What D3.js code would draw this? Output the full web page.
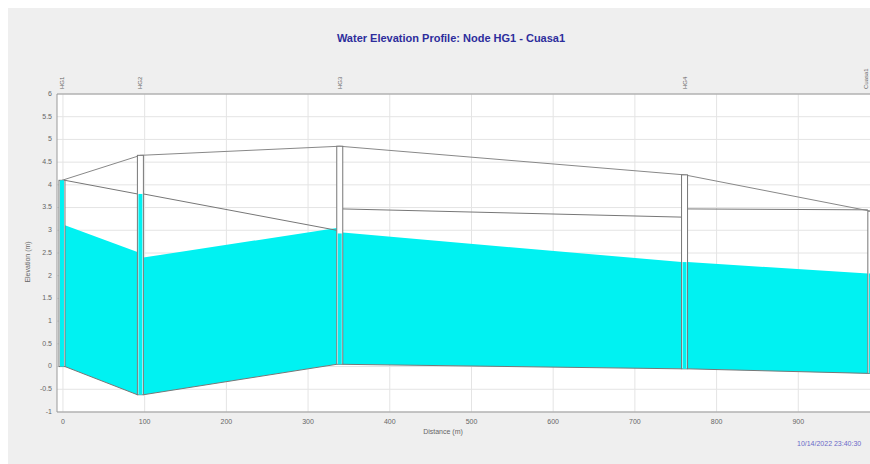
<!DOCTYPE html>
<html>
<head>
<meta charset="utf-8">
<script src="https://d3js.org/d3.v7.min.js"></script>
<style>
  body { margin: 0; background: #fff; }
  svg { display: block; font-family: "Liberation Sans", Arial, sans-serif; }
</style>
</head>
<body>
<svg width="870" height="464"></svg>
<script>
// Nodes along the profile
var nodeNames  = ["HG1", "HG2", "HG3", "HG4", "Cuasa1"];
var nodeDist   = [0, 96, 340, 762, 990];          // m
var nodeInvert = [0, -0.62, 0.05, -0.05, -0.15];  // m
var nodeGround = [4.1, 4.65, 4.85, 4.22, 3.42];   // m
var nodeWater  = [4.1, 3.8, 2.93, 2.3, 2.05];     // m

// Conduits between consecutive nodes
var crownUp = [4.1, 3.8, 3.47, 3.47];
var crownDn = [3.8, 3.0, 3.29, 3.45];
var waterUp = [3.11, 2.4, 2.95, 2.3];
var waterDn = [2.52, 3.05, 2.3, 2.05];

var xTicks = [0, 100, 200, 300, 400, 500, 600, 700, 800, 900];
var yTicks = [-1, -0.5, 0, 0.5, 1, 1.5, 2, 2.5, 3, 3.5, 4, 4.5, 5, 5.5, 6];

var svg = d3.select("svg"),
    width = +svg.attr("width"),
    height = +svg.attr("height");

// background panel
svg.append("rect").attr("x", 8).attr("y", 8)
    .attr("width", width - 8).attr("height", height - 8)
    .attr("fill", "#efefef");

var pLeft = 57, pRight = 880, pTop = 94, pBottom = 412;

var x = d3.scaleLinear().domain([-7.3, 1000]).range([pLeft, pRight]);
var y = d3.scaleLinear().domain([-1, 6]).range([pBottom, pTop]);

var plot = svg.append("g");
plot.append("rect").attr("x", pLeft).attr("y", pTop)
    .attr("width", pRight - pLeft).attr("height", pBottom - pTop)
    .attr("fill", "#fff");

// grid
plot.selectAll(".vg").data(xTicks).enter().append("line")
    .attr("x1", function(d){ return x(d) }).attr("x2", function(d){ return x(d) })
    .attr("y1", pTop).attr("y2", pBottom)
    .attr("stroke", "#e4e4e4");
plot.selectAll(".hg").data(yTicks).enter().append("line")
    .attr("x1", pLeft).attr("x2", pRight)
    .attr("y1", function(d){ return y(d) }).attr("y2", function(d){ return y(d) })
    .attr("stroke", "#e4e4e4");

var links = d3.range(nodeNames.length - 1);
var nw = 6, off = 4; // node box width / offset from node position

// water in conduits
plot.selectAll(".water").data(links).enter().append("path")
    .attr("d", function(i){
        var x0 = x(nodeDist[i]) - off + nw, x1 = x(nodeDist[i+1]) - off;
        return "M" + x0 + "," + y(nodeInvert[i]) +
               "L" + x0 + "," + y(waterUp[i]) +
               "L" + x1 + "," + y(waterDn[i]) +
               "L" + x1 + "," + y(nodeInvert[i+1]) + "Z";
    })
    .attr("fill", "#00f2f2");

// conduit crown and invert
plot.selectAll(".crown").data(links).enter().append("line")
    .attr("x1", function(i){ return x(nodeDist[i]) - off + nw })
    .attr("x2", function(i){ return x(nodeDist[i+1]) - off })
    .attr("y1", function(i){ return y(crownUp[i]) })
    .attr("y2", function(i){ return y(crownDn[i]) })
    .attr("stroke", "#777").attr("stroke-width", 1);
plot.selectAll(".invert").data(links).enter().append("line")
    .attr("x1", function(i){ return x(nodeDist[i]) - off + nw })
    .attr("x2", function(i){ return x(nodeDist[i+1]) - off })
    .attr("y1", function(i){ return y(nodeInvert[i]) })
    .attr("y2", function(i){ return y(nodeInvert[i+1]) })
    .attr("stroke", "#777").attr("stroke-width", 1);

// ground surface
plot.append("path")
    .datum(d3.range(nodeNames.length))
    .attr("d", d3.line()
        .x(function(i){ return x(nodeDist[i]) - off + nw / 2 })
        .y(function(i){ return y(nodeGround[i]) }))
    .attr("fill", "none").attr("stroke", "#888");

// nodes
var nodeIdx = d3.range(nodeNames.length);
plot.selectAll(".nodebox").data(nodeIdx).enter().append("rect")
    .attr("x", function(i){ return x(nodeDist[i]) - off })
    .attr("y", function(i){ return y(nodeGround[i]) })
    .attr("width", nw)
    .attr("height", function(i){ return y(nodeInvert[i]) - y(nodeGround[i]) })
    .attr("fill", "#fff").attr("stroke", "#777");
plot.selectAll(".nodewater").data(nodeIdx).enter().append("rect")
    .attr("x", function(i){ return x(nodeDist[i]) - off + 1 })
    .attr("y", function(i){ return y(nodeWater[i]) })
    .attr("width", nw - 2)
    .attr("height", function(i){ return y(nodeInvert[i]) - y(nodeWater[i]) })
    .attr("fill", "#00f2f2");

// frame
svg.append("line").attr("x1", pLeft).attr("x2", width).attr("y1", pTop).attr("y2", pTop)
    .attr("stroke", "#999");
svg.append("line").attr("x1", pLeft).attr("x2", width).attr("y1", pBottom).attr("y2", pBottom)
    .attr("stroke", "#999");
svg.append("line").attr("x1", pLeft).attr("x2", pLeft).attr("y1", pTop).attr("y2", pBottom)
    .attr("stroke", "#999");

// axes labels
svg.selectAll(".xt").data(xTicks).enter().append("text")
    .attr("x", function(d){ return x(d) }).attr("y", 424)
    .attr("text-anchor", "middle")
    .style("font-size", "7px").attr("fill", "#666")
    .text(function(d){ return d });
svg.selectAll(".yt").data(yTicks).enter().append("text")
    .attr("x", 52).attr("y", function(d){ return y(d) })
    .attr("text-anchor", "end").attr("dominant-baseline", "middle")
    .style("font-size", "7px").attr("fill", "#666")
    .text(function(d){ return d });

svg.append("text").attr("x", 443).attr("y", 434)
    .attr("text-anchor", "middle").style("font-size", "7px").attr("fill", "#666")
    .text("Distance (m)");
svg.append("text")
    .attr("transform", "translate(30," + 262 + ") rotate(-90)")
    .attr("text-anchor", "middle").style("font-size", "7px").attr("fill", "#666")
    .text("Elevation (m)");

// node names on top (keep the last one inside the window)
svg.selectAll(".nn").data(nodeIdx).enter().append("text")
    .attr("transform", function(i){
        var nx = Math.min(x(nodeDist[i]) - off + nw / 2 + 2, width - 2);
        return "translate(" + nx + ",89) rotate(-90)";
    })
    .style("font-size", "6px").attr("fill", "#666")
    .text(function(i){ return nodeNames[i] });

// title
svg.append("text").attr("x", 451).attr("y", 42)
    .attr("text-anchor", "middle")
    .style("font-size", "11px").style("font-weight", "bold")
    .attr("fill", "#2d2d9c")
    .text("Water Elevation Profile: Node HG1 - Cuasa1");

// timestamp
svg.append("text").attr("x", 797).attr("y", 446)
    .style("font-size", "7px").attr("fill", "#6a6ac8")
    .text("10/14/2022 23:40:30");
</script>
</body>
</html>
